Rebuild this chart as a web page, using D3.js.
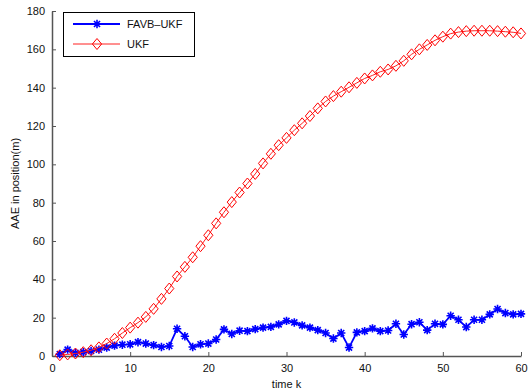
<!DOCTYPE html>
<html>
<head>
<meta charset="utf-8">
<script src="https://cdn.jsdelivr.net/npm/d3@7"></script>
<style>
  body { margin: 0; background: #fff; }
  svg text { font-family: "Liberation Sans", Arial, sans-serif; }
</style>
</head>
<body>
<div id="chart"></div>
<script>
// data, time step k = 1..60
var steps = d3.range(1, 61);
var favbUkf = [1, 3.3, 1.6, 2, 2.6, 3.3, 4.4, 5.4, 5.9, 6.1,
  7.2, 6.5, 5.7, 4.7, 5.2, 14.2, 10.3, 4.7, 6.1, 6.5,
  8.6, 13.9, 11.5, 13.2, 13, 14, 14.8, 15.2, 16.5, 18.3,
  17.5, 16, 14.8, 13.5, 12, 9.1, 12, 4.4, 12.3, 13,
  14.4, 13, 13.3, 16.8, 11.2, 16.6, 17.6, 13.5, 16.8, 16.5,
  21, 18.9, 15.1, 18.9, 18.9, 21.7, 24.5, 22.4, 21.7, 22];
var ukf = [0.4, 0.8, 1.3, 2, 3, 4.5, 6.5, 9, 12, 14.8,
  17.4, 20.4, 24.6, 29.8, 35.2, 41.5, 46.5, 51.5, 57.3, 63,
  69.2, 75, 80.3, 85.3, 90, 95, 100.5, 105.5, 110, 113.8,
  117.8, 121.4, 125.2, 129.2, 132.8, 135.6, 137.9, 140.2, 142.5, 144.8,
  146.4, 148.3, 149.5, 151.4, 154, 157.4, 160, 162.3, 164.7, 166.6,
  168.2, 169, 169.5, 169.7, 169.7, 169.7, 169.5, 169.2, 168.9, 168.3];
var xTicks = [0, 10, 20, 30, 40, 50, 60];
var yTicks = [0, 20, 40, 60, 80, 100, 120, 140, 160, 180];
var seriesNames = ["FAVB\u2013UKF", "UKF"];

const width = 528, height = 392;
const margin = { left: 52, right: 7, top: 11, bottom: 36 };

var svg = d3.select("#chart").append("svg")
  .attr("width", width)
  .attr("height", height);

var x = d3.scaleLinear().domain([0, 60]).range([margin.left, width - margin.right]);
var y = d3.scaleLinear().domain([0, 180]).range([height - margin.bottom, margin.top]);

function axisStyle(g) {
  g.select(".domain").attr("stroke", "#555").attr("stroke-width", 1.5);
  g.selectAll(".tick line").attr("stroke", "#555");
  g.selectAll(".tick text").attr("fill", "#111").attr("font-size", "11px");
}

svg.append("g")
  .attr("transform", `translate(0,${y(0)})`)
  .call(d3.axisBottom(x).tickValues(xTicks).tickSizeInner(-4).tickSizeOuter(0).tickPadding(8))
  .call(axisStyle);

svg.append("g")
  .attr("transform", `translate(${x(0)},0)`)
  .call(d3.axisLeft(y).tickValues(yTicks).tickSizeInner(-4).tickSizeOuter(0).tickPadding(7))
  .call(axisStyle);

svg.append("text")
  .attr("x", (x(0) + x(60)) / 2)
  .attr("y", 388)
  .attr("text-anchor", "middle")
  .attr("font-size", "11px")
  .attr("fill", "#111")
  .text("time k");

svg.append("text")
  .attr("transform", `translate(19,${(y(0) + y(180)) / 2}) rotate(-90)`)
  .attr("text-anchor", "middle")
  .attr("font-size", "11px")
  .attr("fill", "#111")
  .text("AAE in position(m)");

// marker shapes
function asterisk(sel, r) {
  var p = `M${-r},0L${r},0M0,${-r}L0,${r}` +
    `M${-r * 0.72},${-r * 0.72}L${r * 0.72},${r * 0.72}M${-r * 0.72},${r * 0.72}L${r * 0.72},${-r * 0.72}`;
  sel.append("path").attr("d", p).attr("stroke", "#0000ff").attr("stroke-width", 1.6).attr("fill", "none");
}
function diamond(sel) {
  sel.append("path").attr("d", "M0,-5.5L4.6,0L0,5.5L-4.6,0Z")
    .attr("stroke", "#ff0000").attr("stroke-width", 1).attr("fill", "none");
}

var line = d3.line().x((d, i) => x(steps[i])).y(d => y(d));

// blue series
svg.append("path").datum(favbUkf)
  .attr("d", line)
  .attr("fill", "none")
  .attr("stroke", "#0000ff")
  .attr("stroke-width", 1.8);

svg.append("g").selectAll("g")
  .data(favbUkf)
  .enter()
  .append("g")
  .attr("transform", (d, i) => `translate(${x(steps[i])},${y(d)})`)
  .each(function () { asterisk(d3.select(this), 4.2); });

// red series
svg.append("path").datum(ukf)
  .attr("d", line)
  .attr("fill", "none")
  .attr("stroke", "#ff2020")
  .attr("stroke-width", 1);

svg.append("g").selectAll("g")
  .data(ukf)
  .enter()
  .append("g")
  .attr("transform", (d, i) => `translate(${x(steps[i])},${y(d)})`)
  .each(function () { diamond(d3.select(this)); });

// legend
var legend = svg.append("g");
legend.append("rect")
  .attr("x", 63.5).attr("y", 12.5)
  .attr("width", 131).attr("height", 44)
  .attr("fill", "#fff").attr("stroke", "#000").attr("stroke-width", 1);

var rows = [
  { name: seriesNames[0], color: "#0000ff", w: 1.8, mark: g => asterisk(g, 4.2) },
  { name: seriesNames[1], color: "#ff2020", w: 1, mark: diamond }
];
rows.forEach((r, i) => {
  var ly = 24 + i * 20;
  legend.append("line")
    .attr("x1", 73).attr("x2", 120).attr("y1", ly).attr("y2", ly)
    .attr("stroke", r.color).attr("stroke-width", r.w);
  var m = legend.append("g").attr("transform", `translate(97,${ly})`);
  r.mark(m);
  legend.append("text")
    .attr("x", 127).attr("y", ly + 4)
    .attr("font-size", "11px")
    .attr("fill", "#111")
    .text(r.name);
});
</script>
</body>
</html>
